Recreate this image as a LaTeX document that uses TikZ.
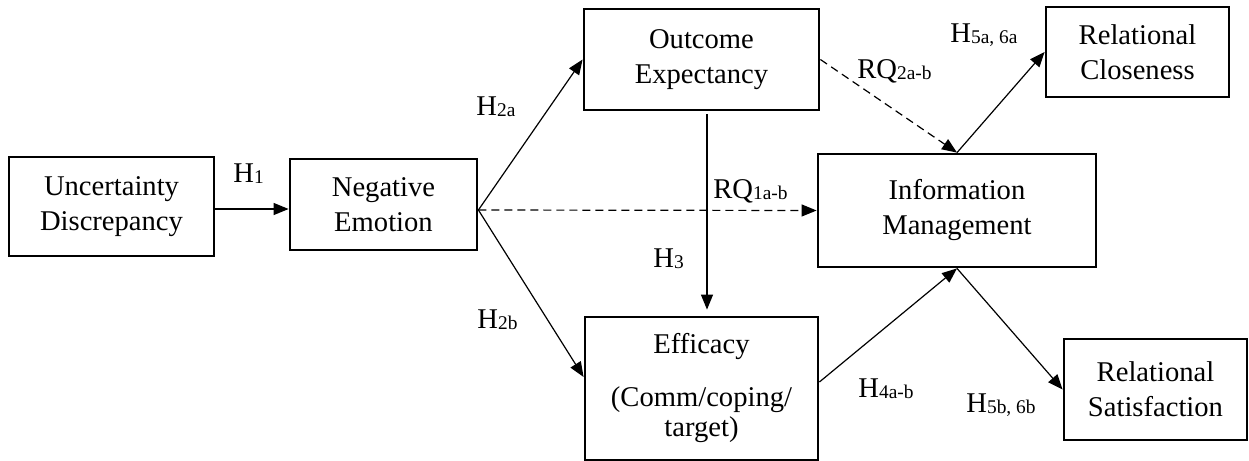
\documentclass[tikz,border=0pt]{standalone}
\usepackage{fontspec}
\setmainfont{Liberation Serif}
\usetikzlibrary{arrows.meta}
\newcommand\sbx[1]{\raisebox{-0.6pt}{\fontsize{9.7}{10}\selectfont #1}}
\begin{document}
\begin{tikzpicture}[x=0.5pt,y=-0.5pt,
  box/.style={draw,line width=1.4pt,rectangle,align=center,inner sep=0pt,
     font=\fontsize{14.3}{17.5}\selectfont},
  lab/.style={anchor=base west,inner sep=0pt,font=\fontsize{14.3}{17.5}\selectfont},
  arr/.style={line width=0.6pt,-{Triangle[length=7.5pt,width=6pt]}},
  dsh/.style={arr,dash pattern=on 4pt off 2.5pt}]
\useasboundingbox (0,0) rectangle (1249,461);
\node[box,minimum width=102.5pt,minimum height=49.5pt] (unc) at (111.5,206.5) {Uncertainty\\Discrepancy};
\node[box,minimum width=93.5pt,minimum height=45.5pt] (neg) at (383.5,204.5) {Negative\\Emotion};
\node[box,minimum width=117.5pt,minimum height=50.5pt] (out) at (701.5,59.5) {Outcome\\Expectancy};
\node[box,minimum width=139pt,minimum height=56.5pt] (info) at (957,210.5) {Information\\Management};
\node[box,minimum width=116.5pt,minimum height=71.5pt] (eff) at (701.5,388.5) {Efficacy\\[9pt](Comm/coping/\\[-2.5pt]target)};
\node[box,minimum width=91.5pt,minimum height=45pt] (clo) at (1137.5,52) {Relational\\Closeness};
\node[box,minimum width=91.5pt,minimum height=50.5pt] (sat) at (1155.5,389.5) {Relational\\Satisfaction};

\draw[arr] (unc.east |- 0,209) -- (neg.west |- 0,209);
\draw[arr] (neg.east |- 0,210) -- (out.west);
\draw[dsh] (neg.east |- 0,210) -- (info.west);
\draw[arr] (neg.east |- 0,210) -- (eff.west |- 0,377);
\draw[arr,shorten >=3pt,shorten <=1.5pt] (out.south -| 707,0) -- (eff.north -| 707,0);
\draw[dsh] (out.east) -- (info.north);
\draw[arr] (eff.east |- 0,382) -- (info.south);
\draw[arr] (info.north) -- (clo.west);
\draw[arr] (info.south) -- (sat.west);

\node[lab] (l1) at (233,182) {H\sbx{1}};
\node[lab] (l2a) at (476,115) {H\sbx{2a}};
\node[lab] (l2b) at (477,328) {H\sbx{2b}};
\node[lab] (l3) at (653,267) {H\sbx{3}};
\node[lab] (lrq1) at (713,198) {RQ\sbx{1a-b}};
\node[lab] (lrq2) at (857,78) {RQ\sbx{2a-b}};
\node[lab] (l56a) at (950,42) {H\sbx{5a, 6a}};
\node[lab] (l4) at (858,397) {H\sbx{4a-b}};
\node[lab] (l56b) at (966,412) {H\sbx{5b, 6b}};
\end{tikzpicture}
\end{document}
